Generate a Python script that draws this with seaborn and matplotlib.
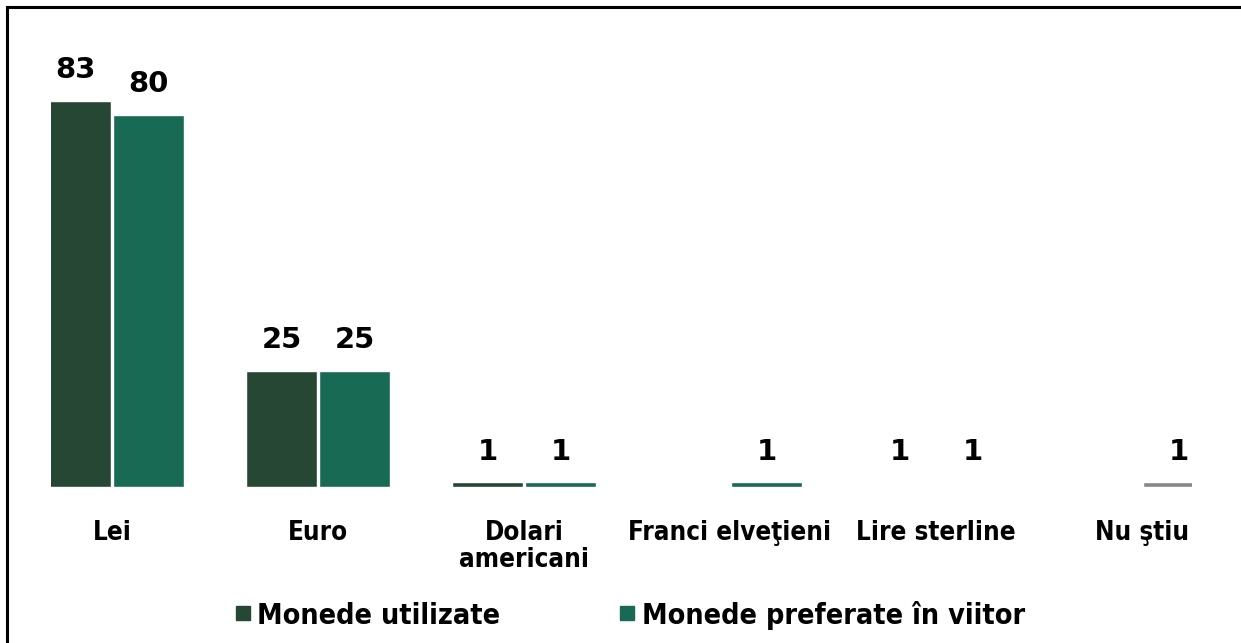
import matplotlib
matplotlib.use("Agg")
import matplotlib.pyplot as plt
import matplotlib.font_manager as fm
from matplotlib.font_manager import FontProperties
import seaborn as sns
import numpy as np
import pandas as pd
from matplotlib.patches import Rectangle
from matplotlib.lines import Line2D

categories = ["Lei", "Euro", "Dolari\namericani", "Franci elveţieni", "Lire sterline", "Nu ştiu"]
series_names = ["Monede utilizate", "Monede preferate în viitor"]
used = [83, 25, 1, np.nan, 1, np.nan]
preferred = [80, 25, 1, 1, 1, 1]

col_used = "#264734"
col_pref = "#186A54"
col_grey = "#878787"

sns.set_theme(style="white")
plt.rcParams["text.color"] = "black"
plt.rcParams["xtick.color"] = "black"


def pick_condensed():
    best = None
    best_score = -1
    for f in fm.fontManager.ttflist:
        nm = f.name.lower()
        st = str(f.stretch).lower()
        cond = ("condensed" in nm or "narrow" in nm or st in ("condensed", "semi-condensed"))
        if not cond or "mono" in nm or "serif" in nm and "sans" not in nm:
            continue
        w = f.weight if isinstance(f.weight, int) else (700 if "bold" in str(f.weight) else 400)
        if w < 600 or f.style != "normal":
            continue
        score = 1
        if "extra" in nm or "extra" in st or "ultra" in st:
            score = 0.5
        if w == 700:
            score += 1
        if score > best_score:
            best_score = score
            best = f.fname
    if best:
        return FontProperties(fname=best)
    return FontProperties(family="DejaVu Sans", weight="bold")


base_fp = pick_condensed()

df = pd.DataFrame({
    "cat": categories * 2,
    "series": [series_names[0]] * 6 + [series_names[1]] * 6,
    "value": used + preferred,
})

fig = plt.figure(figsize=(12.41, 6.43), dpi=100)
renderer = fig.canvas.get_renderer()


def fit(text, target_px, start=20.0):
    fp = base_fp.copy()
    fp.set_size(start)
    t = fig.text(0, 0, text, fontproperties=fp)
    w = t.get_window_extent(renderer).width
    t.remove()
    size = start * target_px / w
    fp2 = base_fp.copy()
    fp2.set_size(size)
    return fp2, size


tick_fp, tick_size = fit("Franci elveţieni", 203)
leg_fp, leg_size = fit("Monede preferate în viitor", 384)

ax = fig.add_axes([51 / 1241, (643 - 487) / 643, 1141 / 1241, (487 - 40) / 643])

sns.barplot(data=df, x="cat", y="value", hue="series", order=categories,
            hue_order=series_names, palette=[col_used, col_pref],
            width=0.71, gap=0.03, ax=ax, legend=False, errorbar=None,
            saturation=1)

for si, (cont, vals) in enumerate(zip(ax.containers, [used, preferred])):
    valid = [i for i, v in enumerate(vals) if not np.isnan(v)]
    for p, ci in zip(cont.patches, valid):
        v = vals[ci]
        if categories[ci] == "Lire sterline":
            p.set_facecolor("white")
        if categories[ci] == "Nu ştiu":
            p.set_facecolor(col_grey)
        ax.annotate(f"{int(v)}", (p.get_x() + p.get_width() / 2, p.get_height()),
                    xytext=(0, 12), textcoords="offset points",
                    ha="center", va="bottom", fontsize=21, fontweight="bold",
                    family="DejaVu Sans", color="black", annotation_clip=False)

ax.set_xlim(-0.296, 5.243)
ax.set_ylim(0, (487 - 40) / 4.65)
ax.set_xlabel("")
ax.set_ylabel("")
ax.set_yticks([])
for s in ax.spines.values():
    s.set_visible(False)
ax.tick_params(axis="x", length=0, pad=23.5)
for lbl in ax.get_xticklabels():
    lbl.set_fontproperties(tick_fp)
    lbl.set_color("black")
    lbl.set_linespacing(1.08)
    lbl.set_verticalalignment("top")

fs_px = leg_size * 100 / 72
handles = [Line2D([], [], marker="s", linestyle="none", markersize=9.4,
                  markerfacecolor=c, markeredgecolor=c) for c in [col_used, col_pref]]
fig.legend(handles, series_names, loc="center", bbox_to_anchor=(630 / 1241, (643 - 615) / 643),
           ncol=2, frameon=False, handletextpad=7 / fs_px, columnspacing=119 / fs_px,
           handlelength=15 / fs_px, borderpad=0, prop=leg_fp, labelcolor="black")

fig.add_artist(Rectangle((6.5 / 1241, -0.1), 1.2, (643 - 6.5) / 643 + 0.1,
                         transform=fig.transFigure, fill=False, edgecolor="black",
                         linewidth=2.2, clip_on=False))

fig.savefig("out.png", dpi=100)
